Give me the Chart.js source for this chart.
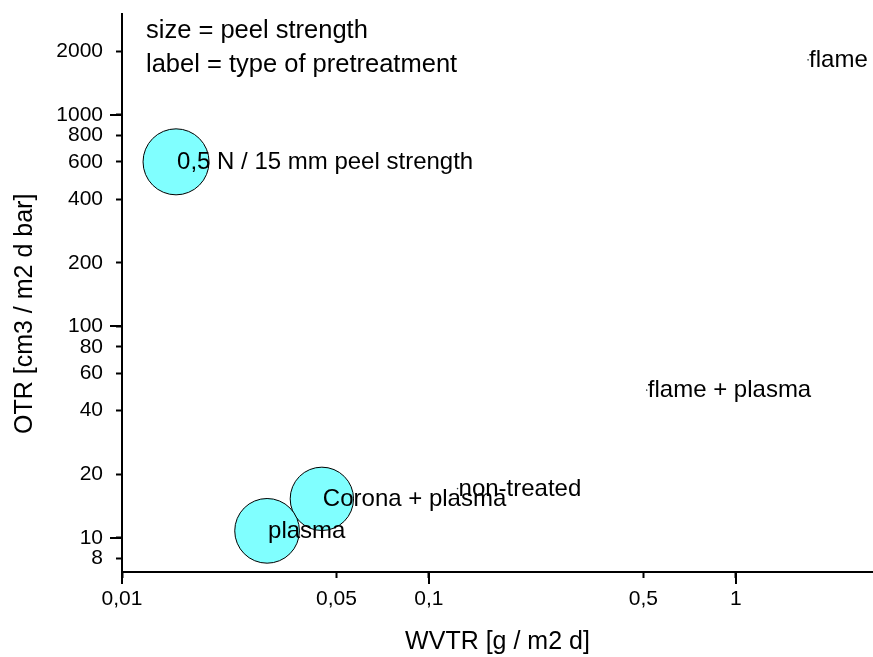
<!DOCTYPE html>
<html>
<head>
<meta charset="utf-8">
<script src="https://cdn.jsdelivr.net/npm/chart.js@4"></script>
<style>
  html, body { margin: 0; padding: 0; background: #fff; }
  #chart { display: block; }
</style>
</head>
<body>
<canvas id="chart" width="873" height="657"></canvas>
<script>
const pretreatments = [`non-treated`, `flame`, `flame + plasma`, `Corona + plasma`, `plasma`];
const wvtr = [0.124, 1.72, 0.513, 0.0448, 0.0297];
const otr = [17.1, 1820, 50, 15.3, 10.8];
const peelStrength = [0.005, 0.005, 0.005, 0.48, 0.49];

// size key bubble
const keyLabel = `0,5 N / 15 mm peel strength`;
const keyWvtr = [0.015];
const keyOtr = [600];
const keyPeel = [0.5];

const notes = [`size = peel strength`, `label = type of pretreatment`];

const xTickValues = [0.01, 0.05, 0.1, 0.5, 1];
const xTickLabels = [`0,01`, `0,05`, `0,1`, `0,5`, `1`];
const yTickValues = [8, 10, 20, 40, 60, 80, 100, 200, 400, 600, 800, 1000, 2000];
const yTickLabels = [`8`, `10`, `20`, `40`, `60`, `80`, `100`, `200`, `400`, `600`, `800`, `1000`, `2000`];
const xDecades = [0.01, 0.1, 1];
const yDecades = [10, 100, 1000];

const FONT = `"Liberation Sans", Arial, sans-serif`;
const PX_PER_PEEL = 66;

const toBubbles = (xs, ys, sizes) => xs.map((x, i) => ({x, y: ys[i], r: sizes[i] * PX_PER_PEEL}));

const fixedTicks = (values) => (scale) => {
  scale.ticks = values.map((value) => ({value}));
};

// decade ticks are twice as long as the others
const longTicks = {
  id: `longTicks`,
  afterDraw(chart) {
    const {ctx, chartArea, scales} = chart;
    ctx.save();
    ctx.strokeStyle = `#000`;
    ctx.lineWidth = 2;
    ctx.beginPath();
    xDecades.forEach((v) => {
      const px = Math.round(scales.x.getPixelForValue(v));
      ctx.moveTo(px, chartArea.bottom);
      ctx.lineTo(px, chartArea.bottom + 12);
    });
    yDecades.forEach((v) => {
      const py = Math.round(scales.y.getPixelForValue(v));
      ctx.moveTo(chartArea.left - 12, py);
      ctx.lineTo(chartArea.left, py);
    });
    ctx.stroke();
    ctx.restore();
  }
};

const pointLabels = {
  id: `pointLabels`,
  afterDatasetsDraw(chart) {
    const {ctx} = chart;
    ctx.save();
    ctx.fillStyle = `#000`;
    ctx.textAlign = `left`;
    ctx.textBaseline = `alphabetic`;
    ctx.font = `24px ${FONT}`;
    chart.data.datasets.forEach((dataset, di) => {
      chart.getDatasetMeta(di).data.forEach((point, i) => {
        ctx.fillText(dataset.names[i], point.x + 1, point.y + 7);
      });
    });
    ctx.font = `25.5px ${FONT}`;
    notes.forEach((text, i) => {
      ctx.fillText(text, 146, 38 + i * 34);
    });
    ctx.restore();
  }
};

new Chart(document.getElementById(`chart`), {
  type: `bubble`,
  data: {
    datasets: [
      {
        label: `peel strength`,
        names: [keyLabel],
        data: toBubbles(keyWvtr, keyOtr, keyPeel),
        backgroundColor: `#80ffff`,
        borderColor: `#000`,
        borderWidth: 1
      },
      {
        label: `pretreatment`,
        names: pretreatments,
        data: toBubbles(wvtr, otr, peelStrength),
        backgroundColor: `#80ffff`,
        borderColor: `#000`,
        borderWidth: 1
      }
    ]
  },
  options: {
    responsive: false,
    devicePixelRatio: 1,
    animation: false,
    layout: {autoPadding: false, padding: {top: 14, right: 0, bottom: 0, left: 0}},
    plugins: {
      legend: {display: false},
      tooltip: {enabled: false}
    },
    scales: {
      x: {
        type: `logarithmic`,
        min: 0.01,
        max: 2.8,
        afterBuildTicks: fixedTicks(xTickValues),
        afterFit: (scale) => {
          scale.height = 85;
          scale.paddingLeft = 0;
          scale.paddingRight = 0;
        },
        border: {display: true, color: `#000`, width: 2},
        grid: {display: true, drawOnChartArea: false, drawTicks: true, tickLength: 6, tickColor: `#000`, tickWidth: 2},
        ticks: {
          autoSkip: false,
          maxRotation: 0,
          padding: 9,
          color: `#000`,
          font: {family: FONT, size: 21},
          callback: (value) => xTickLabels[xTickValues.indexOf(value)]
        },
        title: {
          display: true,
          text: `WVTR [g / m2 d]`,
          color: `#000`,
          font: {family: FONT, size: 25},
          padding: {top: 0, bottom: 0}
        }
      },
      y: {
        type: `logarithmic`,
        min: 6.9,
        max: 3000,
        afterBuildTicks: fixedTicks(yTickValues),
        afterFit: (scale) => {
          scale.width = 122;
          scale.paddingTop = 0;
          scale.paddingBottom = 0;
        },
        border: {display: true, color: `#000`, width: 2},
        grid: {display: true, drawOnChartArea: false, drawTicks: true, tickLength: 6, tickColor: `#000`, tickWidth: 2},
        ticks: {
          autoSkip: false,
          padding: 13,
          color: `#000`,
          font: {family: FONT, size: 21},
          callback: (value) => yTickLabels[yTickValues.indexOf(value)]
        },
        title: {
          display: true,
          text: `OTR [cm3 / m2 d bar]      `,
          color: `#000`,
          font: {family: FONT, size: 25},
          padding: {top: 10, bottom: 0}
        }
      }
    }
  },
  plugins: [longTicks, pointLabels]
});
</script>
</body>
</html>
